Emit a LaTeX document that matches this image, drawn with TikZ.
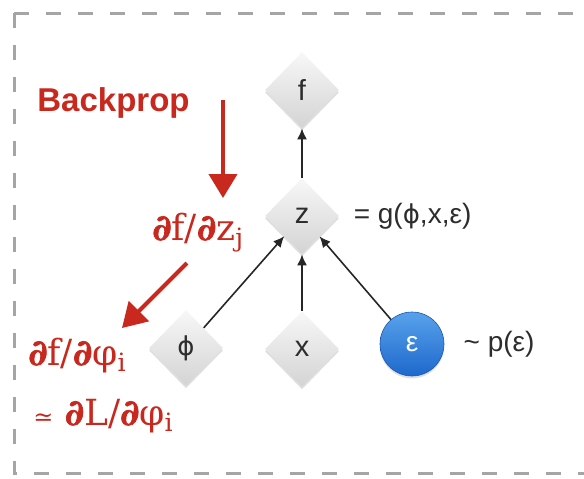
\documentclass[tikz,border=0pt]{standalone}
\usepackage{fontspec}
\setmainfont{Liberation Sans}
\newfontfamily\gradfont{DejaVu Serif}[BoldFont={DejaVu Serif Bold}]
\newfontfamily\phifont{DejaVu Sans}
\usetikzlibrary{shapes.geometric,arrows.meta,shadows,positioning}
\definecolor{bpred}{RGB}{200,40,30}
\definecolor{framegray}{RGB}{165,165,165}
\definecolor{epstop}{RGB}{88,162,236}
\definecolor{epsbot}{RGB}{30,104,204}
\definecolor{vartext}{RGB}{45,45,45}
\newcommand{\phisym}{{\phifont\fontsize{13}{16}\selectfont ϕ}}
\newcommand{\pd}{{\bfseries\addfontfeature{FakeBold=2}∂}}

\begin{document}
\begin{tikzpicture}[x=0.5pt,y=-0.5pt,
  var/.style={diamond,aspect=1,minimum width=37pt,minimum height=38pt,inner sep=0pt,
    top color=gray!6,bottom color=gray!34,text=vartext,
    drop shadow={opacity=0.25,shadow xshift=0pt,shadow yshift=-1.2pt},
    font=\fontsize{14.5}{16}\selectfont},
  noise/.style={circle,minimum size=32pt,inner sep=0pt,top color=epstop,bottom color=epsbot,
    draw=epsbot!85!black,line width=0.3pt,text=white,
    drop shadow={opacity=0.25,shadow xshift=0pt,shadow yshift=-1.2pt},
    font=\fontsize{14}{16}\selectfont},
  lbl/.style={inner sep=0pt,text=vartext,font=\fontsize{14}{16}\selectfont},
  dep/.style={-{Latex[length=5.5pt,width=5pt]},line width=0.8pt,black!85},
  grad/.style={-{Triangle[length=12pt,width=14pt]},line width=2pt,bpred},
  gradtxt/.style={inner sep=0pt,text=bpred,font=\gradfont\fontsize{18}{20}\selectfont}]
\useasboundingbox (0,0) rectangle (584,478);

\draw[framegray,line width=1.5pt,dash pattern=on 7.5pt off 8.5pt] (14,13) -- (620,13);
\draw[framegray,line width=1.5pt,dash pattern=on 7.5pt off 8.5pt] (14,13) -- (14,473) -- (620,473);

\node[var] (f) at (302,90) {f};
\node[var] (z) at (302,216) {z};
\node[var] (phi) at (186,348) {\phisym};
\node[var] (x) at (302,349) {x};
\node[noise] (eps) at (412,344) {ε};

\node[lbl,right=7pt of z] (zeq) {= g(\phisym,x,ε)};
\node[lbl,right=9.5pt of eps] (epsdist) {\textasciitilde{} p(ε)};

\draw[dep] (z) -- (f);
\draw[dep] (phi) -- (z);
\draw[dep] (x) -- (z);
\draw[dep] (eps) -- (z);

\node[anchor=west,inner sep=0pt,text=bpred,font=\bfseries\fontsize{16.5}{20}\selectfont] (bp) at (37,103) {Backprop};
\node[gradtxt,anchor=base west] (dfdz) at (152,240) {\pd f/\pd z\textsubscript{j}};
\node[gradtxt,anchor=base west] (dfdphi) at (28,365) {\pd f/\pd φ\textsubscript{i}};
\node[gradtxt,anchor=base west] (dldphi) at (33,425) {{\fontsize{12}{12}\selectfont ≃} \pd L/\pd φ\textsubscript{i}};

\coordinate (bptop) at (223,100);
\coordinate (bptip) at (223,198);
\coordinate (gradstart) at (187,263);
\coordinate (gradtip) at (122,328);
\draw[grad] (bptop) -- (bptip);
\draw[grad] (gradstart) -- (gradtip);
\end{tikzpicture}
\end{document}
